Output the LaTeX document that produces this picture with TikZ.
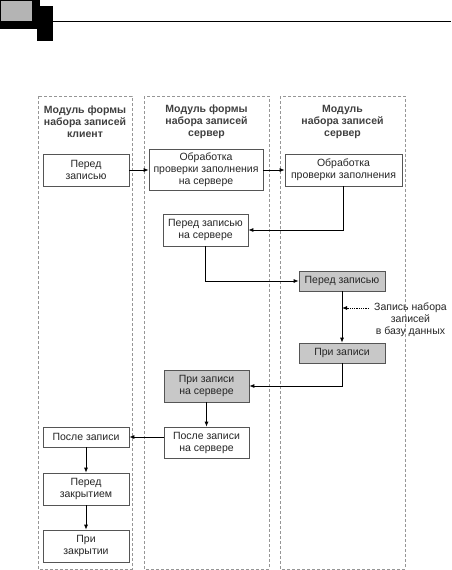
\documentclass[tikz,border=0pt]{standalone}
\usepackage{fontspec}
\setmainfont{Liberation Sans}
\usetikzlibrary{arrows.meta}
\definecolor{boxgray}{RGB}{200,200,200}
\definecolor{framegray}{RGB}{150,150,150}
\definecolor{edgegray}{RGB}{85,85,85}

\begin{document}
\begin{tikzpicture}[x=1pt,y=-1pt,font=\fontsize{10.5}{12}\selectfont]
    \tikzstyle{box} = [rectangle, draw=edgegray, fill=white, line width=0.7pt, minimum width=86pt, minimum height=20pt, inner sep=1pt, align=center, text=black!85]
    \tikzstyle{grey_box} = [box, fill=boxgray]
    \tikzstyle{lane} = [draw=framegray, line width=0.8pt, dash pattern=on 3pt off 2pt]
    \tikzstyle{title} = [font=\fontsize{10.5}{12}\selectfont\bfseries, text=black!75, align=center]

    \useasboundingbox (0,0) rectangle (451,570);

    % page header
    \fill[black] (0,0) rectangle (40,29);
    \fill[black] (37,6) rectangle (53,41);
    \fill[boxgray!90!black] (1,1) rectangle (32,21);
    \draw[line width=0.8pt] (53,21) -- (451,21);

    % lanes
    \draw[lane] (38,96) rectangle (132,569);
    \draw[lane] (144,96) rectangle (269,569);
    \draw[lane] (280,96) rectangle (405,569);

      \draw
        (85,122) node[title] (t1){Модуль формы\\набора записей\\клиент}
        (206.5,122) node[title] (t2){Модуль формы\\набора записей\\сервер}
        (342.5,122) node[title] (t3){Модуль\\набора записей\\сервер};

      \draw
        (86,170) node[box, minimum height=32pt] (0){Перед\\записью}
        (206,170) node[box, minimum width=114pt, minimum height=41pt] (1){Обработка\\проверки заполнения\\на сервере}
        (343.5,170) node[box, minimum width=117pt, minimum height=32pt] (2){Обработка\\проверки заполнения}
        (205.5,230) node[box, minimum width=85pt, minimum height=32pt] (3){Перед записью\\на сервере}
        (342,281) node[grey_box] (4){Перед записью}
        (342,353) node[grey_box] (5){При записи}
        (206.5,386) node[grey_box, minimum width=85pt, minimum height=32pt] (6){При записи\\на сервере}
        (206.5,442.5) node[box, minimum width=85pt, minimum height=31pt] (7){После записи\\на сервере}
        (86,437) node[box] (8){После записи}
        (86,489) node[box, minimum height=32pt] (9){Перед\\закрытием}
        (86,546) node[box, minimum height=32pt] (10){При\\закрытии}
        (410.5,320) node[align=center, text=black!85] (11){Запись набора\\записей\\в базу данных};
      \coordinate (12) at (369,308);

      \begin{scope}[-{Latex[length=5pt,width=4pt]}, line width=0.8pt]
        \draw (0.east) -- (0.east -| 1.west);
        \draw (1.east |- 0.east) -- (2.west |- 0.east);
        \draw (2.south) |- (3.east);
        \draw (3.south) |- (4.west);
        \draw (4.south) -- (5.north);
        \draw (5.south) |- (6.east);
        \draw (6.south) -- (7.north);
        \draw (7.west |- 8.east) -- (8.east);
        \draw (8.south) -- (9.north);
        \draw (9.south) -- (10.north);
        \draw[densely dotted] (12) -- (12 -| 4.south);
      \end{scope}
    \end{tikzpicture}
\end{document}
